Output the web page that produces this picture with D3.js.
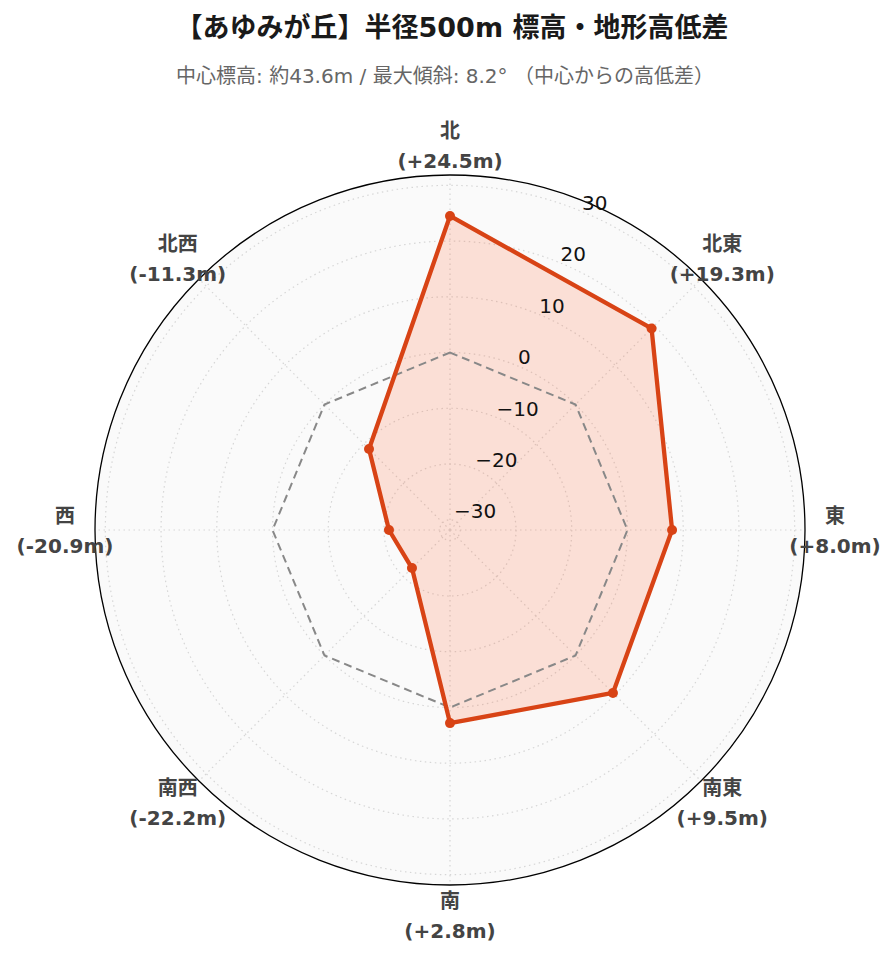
<!DOCTYPE html>
<html><head><meta charset="utf-8">
<script src="https://cdn.jsdelivr.net/npm/d3@7"></script>
<style>
html,body{margin:0;padding:0;background:#fff;}
svg text{font-family:"DejaVu Sans","Noto Sans CJK JP",sans-serif;}
</style></head>
<body><div id="chart"></div>
<script>
const titleText = "【あゆみが丘】半径500m 標高・地形高低差";
const subtitleText = "中心標高: 約43.6m / 最大傾斜: 8.2° （中心からの高低差）";
const directions = ["北","北東","東","南東","南","南西","西","北西"];
const values = [24.5, 19.3, 8.0, 9.5, 2.8, -22.2, -20.9, -11.3];
const baseline = [0,0,0,0,0,0,0,0];
const radialTicks = [-30,-20,-10,0,10,20,30];
const radialRange = [-31.85, 31.85];

const W = 896, H = 962;
const cx = 450, cy = 530, R = 355;
const svg = d3.select("#chart").append("svg").attr("width", W).attr("height", H);

svg.append("text").attr("x", 452).attr("y", 37).attr("text-anchor","middle")
  .style("font-size","27px").style("font-weight","bold").attr("fill","#1a1a1a").text(titleText);
svg.append("text").attr("x", 445).attr("y", 83).attr("text-anchor","middle")
  .style("font-size","20px").attr("fill","#666").text(subtitleText);

const r = d3.scaleLinear().domain(radialRange).range([0, R]);
const angle = d3.scalePoint().domain(directions).range([0, 2*Math.PI*7/8]);
const g = svg.append("g").attr("transform", `translate(${cx},${cy})`);
const pt = (a, rr) => [rr*Math.sin(a), -rr*Math.cos(a)];

g.append("circle").attr("r", R).attr("fill", "#fafafa");
// grid circles
g.selectAll(".gc").data(radialTicks).join("circle")
  .attr("r", d => r(d)).attr("fill","none").attr("stroke","#d6d6d6")
  .attr("stroke-width",1.2).attr("stroke-dasharray","1.5,3.5");
// spokes
g.selectAll(".sp").data(directions).join("line")
  .attr("x1",0).attr("y1",0)
  .attr("x2", d => pt(angle(d), R)[0]).attr("y2", d => pt(angle(d), R)[1])
  .attr("stroke","#d6d6d6").attr("stroke-width",1.2).attr("stroke-dasharray","1.5,3.5");

// data area
const line = d3.lineRadial().angle((d,i) => angle(directions[i])).radius(d => r(d)).curve(d3.curveLinearClosed);
g.append("path").attr("d", line(values)).attr("fill","rgba(255,87,34,0.17)").attr("stroke","none");
// baseline dashed
g.append("path").attr("d", line(baseline)).attr("fill","none").attr("stroke","#888")
  .attr("stroke-width",2).attr("stroke-dasharray","8,5");
g.append("path").attr("d", line(values)).attr("fill","none").attr("stroke","#d84315")
  .attr("stroke-width",4.3).attr("stroke-linejoin","round");
g.selectAll(".mk").data(values).join("circle")
  .attr("cx", (d,i) => pt(angle(directions[i]), r(d))[0])
  .attr("cy", (d,i) => pt(angle(directions[i]), r(d))[1])
  .attr("r", 5).attr("fill","#d84315");

// outer circle
g.append("circle").attr("r", R).attr("fill","none").attr("stroke","#000").attr("stroke-width",1.3);

// radial tick labels
const ta = Math.PI/8;
g.selectAll(".rt").data(radialTicks).join("text")
  .attr("x", d => pt(ta, r(d))[0]).attr("y", d => pt(ta, r(d))[1] - 2)
  .style("font-size","20px").attr("fill","#111")
  .text(d => d3.format("d")(d));

// angular labels
const fmt = v => "(" + (v >= 0 ? "+" : "") + v.toFixed(1) + "m)";
const lab = g.selectAll(".al").data(directions).join("text")
  .attr("text-anchor","middle").style("font-size","20px").style("font-weight","bold").attr("fill","#444")
  .attr("transform", d => { const p = pt(angle(d), 385); return `translate(${p[0]},${p[1]})`; });
lab.append("tspan").attr("x",0).attr("y",-7).text(d => d);
lab.append("tspan").attr("x",0).attr("y",23).text((d,i) => fmt(values[i]));
</script></body></html>
